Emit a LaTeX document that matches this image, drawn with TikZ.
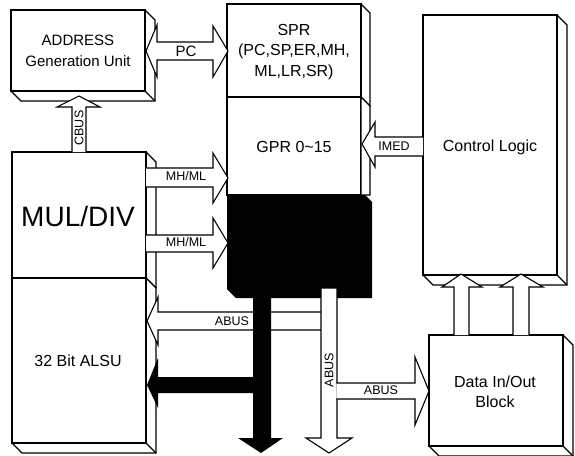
\documentclass[tikz,border=0pt]{standalone}
\usepackage{fontspec}
\setmainfont{Liberation Sans}
\newcommand\tdbox[5]{%
  \filldraw[fill=white] (#1,#2) -- (#3,#2) -- (#3+#5,#2+#5) -- (#3+#5,#4+#5) -- (#1+#5,#4+#5) -- (#1,#4) -- cycle;
  \draw (#1,#2) rectangle (#3,#4);
  \draw (#3,#4) -- (#3+#5,#4+#5);}
\tikzset{
  boxtext/.style={align=center, inner sep=0pt},
  smalllabel/.style={font=\fontsize{12.5}{14}\selectfont, inner sep=0pt},
  whitearrow/.style={fill=white},
}
\begin{document}
\begin{tikzpicture}[x=1pt,y=-1pt,line width=1.1pt,line join=miter]
\useasboundingbox (0,0) rectangle (575,455);
% boxes
\tdbox{11}{10}{145}{91}{10}
\tdbox{227}{4}{361}{97}{9}
\filldraw[fill=white] (227,97) rectangle (361,195);
\filldraw[fill=white] (361,97) -- (370,106) -- (370,195) -- (361,195) -- cycle;
\fill[black] (227,195) -- (365,195) -- (372,202) -- (372,298) -- (236,298) -- (227,289) -- cycle;
\tdbox{12}{152}{146}{278}{10}
\tdbox{12}{278}{146}{443}{10}
\tdbox{423}{15}{557}{275}{10}
\tdbox{429}{335}{563}{446}{10}
% texts
\node[boxtext, font=\fontsize{15}{21}\selectfont] (addr) at (78,51) {ADDRESS\\Generation Unit};
\node[boxtext, font=\fontsize{16}{20.5}\selectfont] (spr) at (294,52) {SPR\\(PC,SP,ER,MH,\\ML,LR,SR)};
\node[boxtext, font=\fontsize{16}{19}\selectfont] (gpr) at (294,147) {GPR 0\textasciitilde15};
\node[boxtext, font=\fontsize{28}{32}\selectfont] (mul) at (78,216) {MUL/DIV};
\node[boxtext, font=\fontsize{16}{19}\selectfont] (alsu) at (78,361) {32 Bit ALSU};
\node[boxtext, font=\fontsize{16}{19}\selectfont] (ctrl) at (490,147) {Control Logic};
\node[boxtext, font=\fontsize{16}{20}\selectfont] (dio) at (495,392) {Data In/Out\\Block};
% PC double arrow
\filldraw[whitearrow] (146,51) -- (157,25) -- (157,42) -- (213,42) -- (213,26) -- (228,51) -- (213,77) -- (213,60) -- (157,60) -- (157,77) -- cycle;
\node[font=\fontsize{15}{17}\selectfont, inner sep=0pt] (pc) at (186,51) {PC};
% CBUS
\fill[white] (72,152) -- (72,107) -- (57,107) -- (79,96) -- (100,107) -- (86,107) -- (86,152) -- cycle;
\draw (72,152) -- (72,107) -- (57,107) -- (79,96) -- (100,107) -- (86,107) -- (86,152);
\node[smalllabel, rotate=90] (cbus) at (79,128) {CBUS};
% MH/ML arrows
\fill[white] (146,168) -- (213,168) -- (213,153) -- (228,178) -- (213,203) -- (213,187) -- (146,187) -- cycle;
\draw (146,168) -- (213,168) -- (213,153) -- (228,178) -- (213,203) -- (213,187) -- (146,187);
\node[smalllabel] (mh1) at (186,176) {MH/ML};
\fill[white] (146,235) -- (213,235) -- (213,218) -- (228,243) -- (213,268) -- (213,252) -- (146,252) -- cycle;
\draw (146,235) -- (213,235) -- (213,218) -- (228,243) -- (213,268) -- (213,252) -- (146,252);
\node[smalllabel] (mh2) at (186,242) {MH/ML};
% IMED
\fill[white] (423,137) -- (375,137) -- (375,122) -- (362,144) -- (375,167) -- (375,156) -- (423,156) -- cycle;
\draw (423,137) -- (375,137) -- (375,122) -- (362,144) -- (375,167) -- (375,156) -- (423,156);
\node[smalllabel] (imed) at (394,146) {IMED};
% ABUS left
\fill[white] (321,312) -- (158,312) -- (158,297) -- (147,321) -- (158,345) -- (158,330) -- (321,330) -- cycle;
\draw (321,312) -- (158,312) -- (158,297) -- (147,321) -- (158,345) -- (158,330) -- (321,330);
\node[smalllabel] (abus1) at (232,321) {ABUS};
% black bus arrow
\fill[black] (271,298) -- (271,438) -- (283,438) -- (261,453) -- (238,438) -- (253,438) -- (253,393) -- (158,393) -- (158,408) -- (147,385) -- (158,358) -- (158,377) -- (253,377) -- (253,298) -- cycle;
% white vertical ABUS
\filldraw[whitearrow] (321,288) -- (321,438) -- (306,438) -- (329,453) -- (352,438) -- (337,438) -- (337,288) -- cycle;
\node[smalllabel, rotate=90] (abus2) at (329,370) {ABUS};
% ABUS right
\fill[white] (336.3,383) -- (415,383) -- (415,357) -- (429,391) -- (415,425) -- (415,399) -- (336.3,399) -- cycle;
\draw (336.4,383) -- (415,383) -- (415,357) -- (429,391) -- (415,425) -- (415,399) -- (336.4,399);
\node[smalllabel] (abus3) at (381,390) {ABUS};
% Data -> Control arrows
\fill[white] (454,335) -- (454,287) -- (442,287) -- (461,274) -- (482,287) -- (469,287) -- (469,335) -- cycle;
\draw (454,335) -- (454,287) -- (442,287) -- (461,274) -- (482,287) -- (469,287) -- (469,335);
\fill[white] (513,335) -- (513,287) -- (500,287) -- (521,274) -- (543,287) -- (529,287) -- (529,335) -- cycle;
\draw (513,335) -- (513,287) -- (500,287) -- (521,274) -- (543,287) -- (529,287) -- (529,335);
\end{tikzpicture}
\end{document}
